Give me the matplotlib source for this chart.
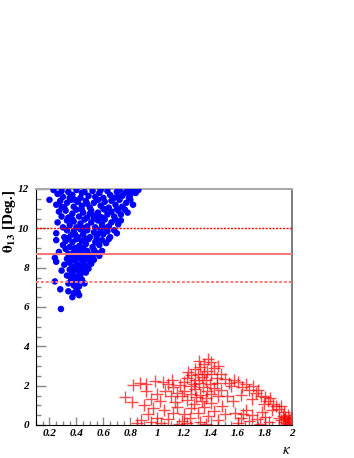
import matplotlib
matplotlib.use('Agg')
import matplotlib.pyplot as plt
from matplotlib.ticker import MultipleLocator

# blue solutions (kappa, theta13)
kappa_blue = [0.23, 0.20, 0.29, 0.30, 0.34, 0.37, 0.40, 0.43, 0.46, 0.49, 0.52, 0.54, 0.57, 0.60, 0.63, 0.65,
              0.68, 0.70, 0.72, 0.74, 0.76, 0.78, 0.80, 0.82, 0.84, 0.86, 0.79, 0.71, 0.44, 0.35, 0.26, 0.58,
              0.25, 0.28, 0.31, 0.33, 0.36, 0.38, 0.41, 0.44, 0.47, 0.50, 0.53, 0.56, 0.58, 0.61, 0.64, 0.66,
              0.69, 0.72, 0.74, 0.77, 0.80, 0.82, 0.70, 0.60, 0.39, 0.29, 0.48,
              0.27, 0.29, 0.32, 0.34, 0.37, 0.40, 0.42, 0.45, 0.48, 0.51, 0.53, 0.56, 0.59, 0.61, 0.63, 0.66,
              0.68, 0.71, 0.73, 0.76, 0.78, 0.36, 0.44, 0.57, 0.50,
              0.26, 0.30, 0.33, 0.35, 0.38, 0.40, 0.43, 0.46, 0.48, 0.51, 0.54, 0.56, 0.59, 0.61, 0.64, 0.66,
              0.69, 0.71, 0.73, 0.45, 0.37, 0.53, 0.62,
              0.25, 0.31, 0.33, 0.36, 0.38, 0.41, 0.43, 0.45, 0.48, 0.50, 0.53, 0.55, 0.58, 0.60, 0.63, 0.65,
              0.68, 0.70, 0.39, 0.46, 0.57, 0.34,
              0.25, 0.30, 0.32, 0.35, 0.37, 0.40, 0.42, 0.44, 0.47, 0.49, 0.52, 0.54, 0.57, 0.59, 0.62, 0.64,
              0.39, 0.45, 0.55,
              0.24, 0.27, 0.32, 0.34, 0.36, 0.38, 0.40, 0.42, 0.44, 0.46, 0.48, 0.50, 0.53, 0.55, 0.57, 0.59,
              0.41, 0.37, 0.52,
              0.25, 0.31, 0.33, 0.35, 0.37, 0.39, 0.41, 0.43, 0.45, 0.47, 0.49, 0.51, 0.53, 0.40, 0.44, 0.36,
              0.29, 0.33, 0.35, 0.37, 0.39, 0.41, 0.43, 0.45, 0.47, 0.49, 0.38, 0.42,
              0.24, 0.34, 0.36, 0.38, 0.40, 0.42, 0.44, 0.46, 0.41,
              0.28, 0.34, 0.38, 0.40, 0.42, 0.37, 0.41,
              0.285]
theta_blue = [11.95, 11.45, 11.90, 11.60, 11.85, 11.70, 11.95, 11.55, 11.85, 11.65, 11.90, 11.60, 11.80, 11.55, 11.90, 11.70,
              11.55, 11.85, 11.95, 11.65, 11.80, 11.95, 11.70, 11.90, 11.80, 11.95, 11.55, 11.60, 11.80, 11.55, 11.75, 11.95,
              11.20, 11.40, 11.05, 11.30, 11.45, 11.10, 11.35, 11.15, 11.40, 11.05, 11.30, 11.45, 11.15, 11.35, 11.05, 11.40,
              11.20, 11.45, 11.10, 11.30, 11.45, 11.20, 11.00, 11.00, 11.45, 11.10, 11.25,
              10.85, 10.60, 10.90, 10.55, 10.75, 10.95, 10.60, 10.80, 10.55, 10.90, 10.65, 10.80, 10.55, 10.95, 10.70, 10.85,
              10.60, 10.90, 10.70, 10.95, 10.80, 10.55, 10.95, 10.60, 10.75,
              10.30, 10.05, 10.40, 10.15, 10.35, 10.05, 10.25, 10.45, 10.10, 10.30, 10.05, 10.40, 10.20, 10.45, 10.10, 10.30,
              10.45, 10.20, 10.40, 10.00, 10.45, 10.50, 10.00,
              9.75, 9.55, 9.90, 9.65, 9.85, 9.55, 9.95, 9.70, 9.90, 9.55, 9.80, 9.60, 9.95, 9.70, 9.85, 9.55,
              9.90, 9.75, 9.70, 9.50, 9.75, 9.50,
              9.40, 9.15, 9.35, 9.05, 9.30, 9.45, 9.10, 9.35, 9.20, 9.45, 9.05, 9.30, 9.15, 9.40, 9.25, 9.45,
              9.00, 9.00, 9.45,
              8.50, 8.80, 8.95, 8.70, 8.50, 8.80, 8.60, 8.95, 8.70, 8.55, 8.85, 8.65, 8.90, 8.75, 8.60, 8.85,
              8.80, 8.65, 8.55,
              8.30, 8.15, 8.45, 8.25, 8.05, 8.35, 8.15, 8.45, 8.30, 8.10, 8.40, 8.20, 8.40, 8.00, 8.05, 8.45,
              7.85, 7.60, 7.90, 7.70, 7.55, 7.85, 7.65, 7.90, 7.75, 7.95, 7.95, 7.50,
              7.30, 7.20, 7.45, 7.10, 7.30, 7.05, 7.40, 7.20, 7.50,
              6.90, 6.80, 6.70, 6.95, 6.60, 6.50, 6.75,
              5.90]

# red solutions (kappa, theta13)
kappa_red = [1.38, 1.40, 1.35, 1.32, 1.42, 1.28, 1.37, 1.30, 1.25, 1.40, 1.33, 1.22, 1.28, 1.36, 1.44, 1.20,
             1.31, 1.39, 1.25, 1.17, 1.34, 1.42, 1.28, 1.20, 1.37, 1.15, 1.25, 1.32, 1.40, 1.18, 1.29, 1.36,
             1.45, 1.22, 1.33, 1.12, 1.23, 1.31, 1.45, 1.47, 1.44, 1.47, 1.35, 1.27,
             0.76, 0.81, 0.82, 0.87, 0.92, 0.95, 0.90, 1.00, 1.04, 1.08, 1.06, 1.02, 1.10, 1.13, 0.97, 1.05,
             0.93, 1.00, 0.88, 1.12, 1.08, 0.85, 0.95, 1.03, 0.98, 1.11, 0.92,
             1.15, 1.20, 1.25, 1.18, 1.24, 1.30, 1.35, 1.32, 1.38, 1.42, 1.45, 1.48, 1.27, 1.40, 1.50, 1.16,
             1.22, 1.36,
             1.50, 1.53, 1.57, 1.55, 1.60, 1.63, 1.66, 1.68, 1.71, 1.73, 1.75, 1.77, 1.80, 1.82, 1.84, 1.86,
             1.88, 1.90, 1.92, 1.94, 1.79, 1.85, 1.52, 1.56, 1.62, 1.70,
             1.58, 1.62, 1.66, 1.70, 1.68, 1.74, 1.78, 1.80, 1.83, 1.60, 1.76, 1.64,
             1.93, 1.95, 1.97, 1.98, 1.96, 1.99, 1.94, 1.92, 1.97, 2.00, 1.99, 1.95, 1.90, 1.98, 2.00]
theta_red = [3.35, 3.20, 3.10, 2.95, 2.90, 2.85, 2.75, 2.60, 2.55, 2.60, 2.45, 2.40, 2.30, 2.30, 2.40, 2.20,
             2.15, 2.10, 2.00, 2.05, 1.95, 1.90, 1.85, 1.75, 1.75, 1.65, 1.60, 1.55, 1.60, 1.45, 1.40, 1.35,
             1.45, 1.25, 1.20, 1.95, 2.70, 3.25, 3.00, 2.60, 2.15, 1.80, 2.60, 2.10,
             1.40, 1.15, 2.05, 2.15, 2.10, 1.30, 1.00, 1.60, 2.20, 2.10, 1.75, 1.20, 1.45, 1.15, 0.85, 0.75,
             0.55, 0.35, 0.25, 0.60, 0.30, 0.10, 0.15, 0.10, 2.25, 2.30, 1.75,
             0.90, 0.55, 0.85, 0.20, 0.35, 0.60, 0.90, 0.15, 0.45, 0.70, 0.25, 0.95, 1.05, 1.10, 0.55, 0.05,
             0.10, 0.05,
             2.35, 2.15, 2.30, 2.00, 2.20, 1.95, 2.10, 1.80, 2.00, 1.65, 1.80, 1.50, 1.40, 1.20, 1.35, 1.05,
             0.95, 0.80, 0.95, 0.65, 1.05, 0.75, 1.45, 1.20, 1.55, 1.30,
             0.60, 0.35, 0.75, 0.50, 0.20, 0.30, 0.65, 0.40, 0.15, 0.10, 0.05, 0.55,
             0.45, 0.30, 0.50, 0.20, 0.10, 0.35, 0.15, 0.25, 0.05, 0.15, 0.02, 0.40, 0.35, 0.28, 0.40]

best_fit = 8.68
band_hi = 10.0
band_lo = 7.25

plt.rcParams['mathtext.fontset'] = 'stix'
tick_font = dict(family='Liberation Serif', weight='bold', style='italic', size=8)

fig = plt.figure(figsize=(3.54, 4.58), dpi=100)
ax = fig.add_axes([36/354, 33/458, 256/354, 236/458])

ax.scatter(kappa_red, theta_red, marker='+', s=75, color='red', alpha=0.7, linewidths=1.0, zorder=2)
ax.scatter(kappa_blue, theta_blue, marker='o', s=22, color='blue', edgecolors='none', zorder=3)

ax.axhline(best_fit, color='#f27a7a', lw=1.5, zorder=4)
ax.axhline(band_hi, color='red', lw=1.0, ls=(0, (1.5, 1)), zorder=4)
ax.axhline(band_lo, color='#ff7a7a', lw=1.4, ls=(0, (1.5, 1)), zorder=4)

ax.set_xlim(0.1, 2.0)
ax.set_ylim(0, 12)
ax.xaxis.set_major_locator(MultipleLocator(0.2))
ax.xaxis.set_minor_locator(MultipleLocator(0.05))
ax.yaxis.set_major_locator(MultipleLocator(2))
ax.yaxis.set_minor_locator(MultipleLocator(0.5))
ax.set_xticks([0.2, 0.4, 0.6, 0.8, 1.0, 1.2, 1.4, 1.6, 1.8, 2.0])
ax.set_xticklabels(['0.2', '0.4', '0.6', '0.8', '1', '1.2', '1.4', '1.6', '1.8', '2'], **tick_font)
ax.set_yticks([0, 2, 4, 6, 8, 10, 12])
ax.set_yticklabels(['0', '2', '4', '6', '8', '10', '12'], **tick_font)
ax.tick_params(axis='both', which='both', direction='in', color='#888888', width=1)
ax.tick_params(axis='x', which='major', length=6, pad=3)
ax.tick_params(axis='x', which='minor', length=3)
ax.tick_params(axis='y', which='major', length=7, pad=5)
ax.tick_params(axis='y', which='minor', length=3.5)

ax.spines['top'].set_color('#aaaaaa')
ax.spines['top'].set_linewidth(1.5)
ax.spines['right'].set_color('#666666')
ax.spines['right'].set_linewidth(1.2)
ax.spines['left'].set_color('black')
ax.spines['bottom'].set_color('black')

fig.text(10/354, 1 - 221/458, r'$\mathbf{\theta_{13}}$ [Deg.]', rotation=90, ha='center', va='center',
         family='Liberation Serif', weight='bold', size=11)
fig.text(287/354, 1 - 449/458, r'$\kappa$', ha='center', va='center', size=11)

fig.savefig('out.png', dpi=100)
